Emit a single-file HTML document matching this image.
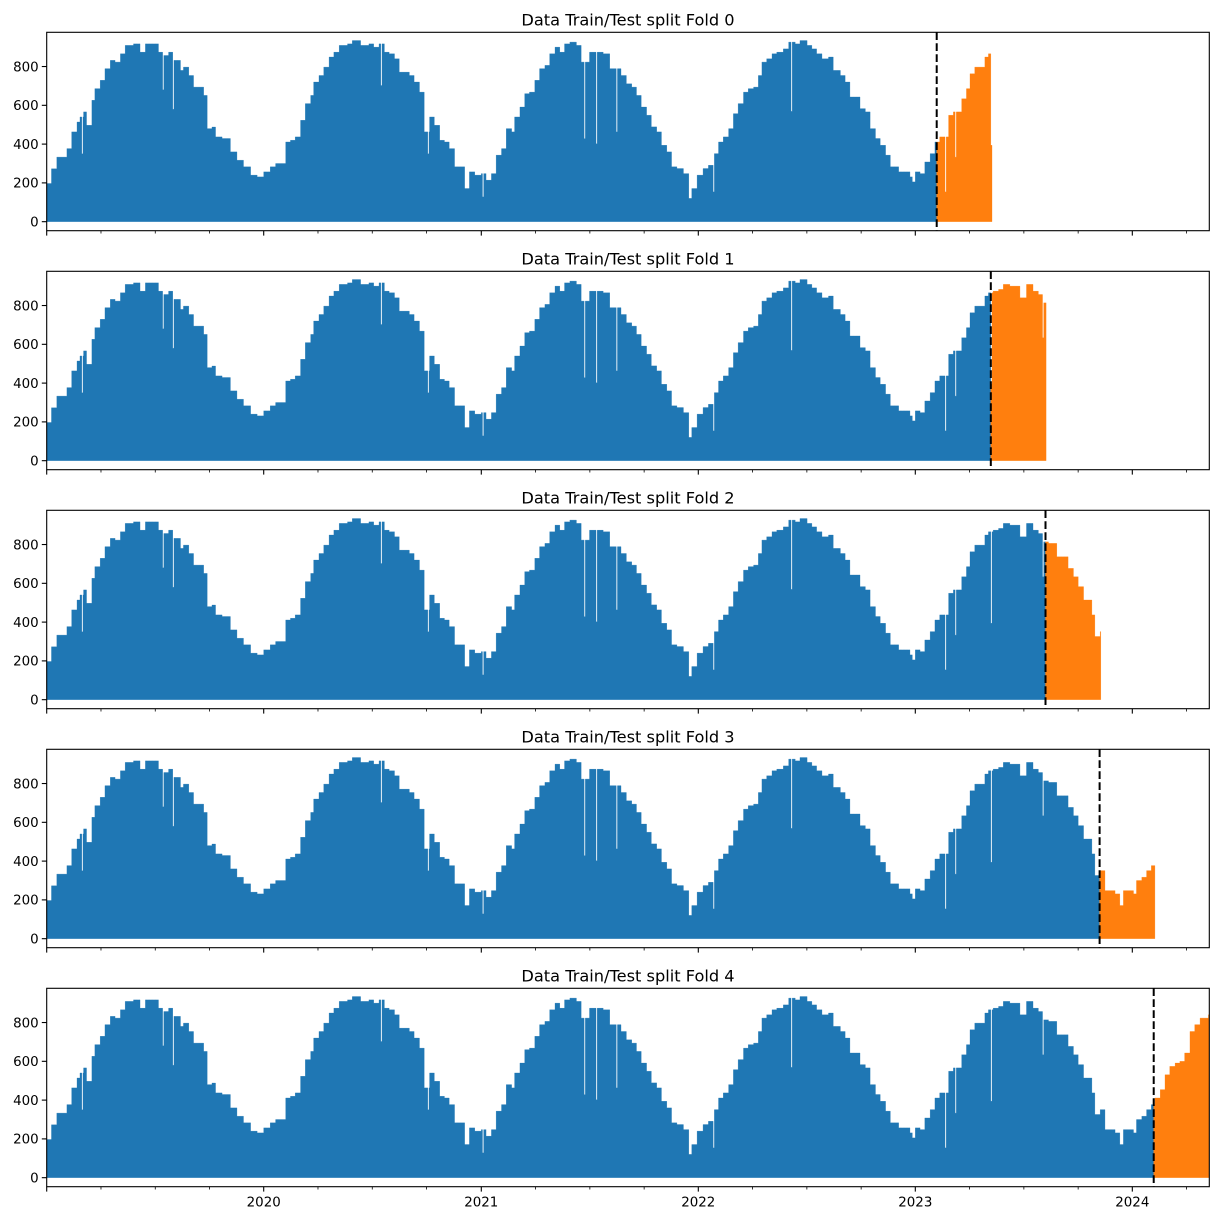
<!DOCTYPE html>
<html><head><meta charset="utf-8"><style>
html,body{margin:0;padding:0;background:#fff;}
svg text{font-family:"DejaVu Sans","Liberation Sans",sans-serif;}
</style></head><body>
<svg id="fig" width="1218" height="1221" viewBox="0 0 1218 1221" xmlns="http://www.w3.org/2000/svg"></svg>
<script>
// ---- data (day index from 2019-01-01) ----
const sampleDays = [0,8,17,28,34,42,51,56,62,67,76,81,90,98,107,115,124,132,146,157,166,180,188,197,205,213,225,230,239,247,255,264,270,278,284,295,309,320,331,343,354,365,
376,385,393,402,410,418,427,435,444,449,458,466,475,483,492,506,514,528,542,550,559,568,576,585,593,601,610,618,627,635,644,652,661,669,677,686,694,703,711,720,731,
739,748,756,765,773,782,787,796,804,812,821,829,838,846,855,863,871,880,891,899,913,925,936,947,955,966,975,984,992,1000,1009,1017,1026,1034,1043,1051,1060,1071,1080,1085,1094,
1104,1113,1121,1130,1138,1147,1155,1163,1172,1180,1189,1197,1203,1211,1220,1228,1239,1248,1259,1267,1279,1287,1295,1304,1315,1323,1335,1343,1351,1360,1368,1377,1385,1394,1402,1411,1419,1424,1433,1441,1452,1456,
1461,1469,1477,1486,1494,1502,1517,1525,1533,1539,1547,1553,1561,1570,1578,1584,1592,1601,1609,1620,1629,1637,1648,1659,1668,1676,1685,1693,1699,1710,1718,1727,1735,1744,1752,1758,1763,1772,1780,1788,1797,1805,1811,1819,1828,1833,1842,1850,1858,1864,1873,1881,1889,1898,1906,1914,1923,1931,1940,1948,1954];
const samplePeaks = [197,273,333,333,377,463,514,540,566,497,626,686,729,789,832,823,866,909,917,874,917,917,874,857,874,832,780,797,754,694,694,651,480,488,437,429,360,317,283,240,231,257,
283,300,300,411,420,437,523,609,651,720,754,797,849,874,909,917,934,909,917,900,917,874,866,840,771,771,754,720,668,463,540,497,420,411,377,283,283,171,257,240,248,
214,248,343,377,480,463,540,591,660,668,729,789,806,866,900,874,917,926,909,823,874,874,866,789,789,754,711,694,651,591,549,489,463,394,360,283,274,248,120,171,240,
274,291,351,411,437,480,557,609,668,686,694,754,823,840,866,874,891,926,917,934,909,891,866,840,849,780,754,720,643,643,583,566,480,429,394,343,283,283,257,257,231,205,
257,248,308,351,411,437,549,566,566,634,686,763,797,797,849,866,874,883,909,900,900,840,909,874,857,814,806,806,737,737,677,634,583,514,514,437,326,351,248,248,231,171,248,248,231,300,317,351,377,411,454,531,574,591,600,643,754,789,823,823,840];
const dipDays = [59,195,212,562,641,733,904,924,958,1121,1252,1511,1528,1588,1675];
const dipValues = [350,680,580,702,350,128,428,402,463,154,569,154,333,394,634];
const foldSplits = [1497,1588,1680,1771,1862];
const testLength = 93;
const yTicks = [0,200,400,600,800];
const yearStartDays = [0,365,731,1096,1461,1826];
const yearLabels = ["","2020","2021","2022","2023","2024"];

// ---- layout ----
const AX_L=46.7, AX_R=1209.3, AX_H=198.4, TOP0=32.3, GAP=239;
const DAY_END=1955.5, YMIN=-46.5, YMAX=976.5;
const NS="http://www.w3.org/2000/svg";
const svg=document.getElementById('fig');
function xS(d){return AX_L+(d-0)*(AX_R-AX_L)/DAY_END;}
function mk(tag,attrs,parent){const e=document.createElementNS(NS,tag);for(const k in attrs)e.setAttribute(k,attrs[k]);(parent||svg).appendChild(e);return e;}

const nDays=1955;
const daily=[];
let si=0;
for(let d=0;d<nDays;d++){
  while(si+1<sampleDays.length && sampleDays[si+1]<=d) si++;
  daily.push(samplePeaks[si]);
}
dipDays.forEach((d,i)=>{if(d<nDays){daily[d]=dipValues[i];if(d+1<nDays)daily[d+1]=dipValues[i];}});

for(let f=0;f<5;f++){
  const top=TOP0+f*GAP, bot=top+AX_H;
  const yS=v=>bot-(v-YMIN)*AX_H/(YMAX-YMIN);
  const g=mk('g',{});
  
  
  const split=foldSplits[f], end=Math.min(split+testLength,nDays);
  function area(d0,d1,color,name){
    let p='M'+xS(d0).toFixed(2)+','+yS(0).toFixed(2);
    for(let d=d0;d<d1;d++){
      p+='L'+xS(d).toFixed(2)+','+yS(daily[d]).toFixed(2)+'L'+xS(d+1).toFixed(2)+','+yS(daily[d]).toFixed(2);
    }
    p+='L'+xS(d1).toFixed(2)+','+yS(0).toFixed(2)+'Z';
    const e=mk('path',{d:p,fill:color,stroke:color,'stroke-width':0.3,'stroke-linejoin':'round'},g);
    
    
  }
  area(0,split,'#1f77b4','train-series');
  area(split,end,'#ff7f0e','test-series');
  const dl=mk('line',{x1:xS(split),x2:xS(split),y1:top,y2:bot,stroke:'#000','stroke-width':2,'stroke-dasharray':'7.7,3.3'},g);
  
  
  const fr=mk('rect',{x:AX_L,y:top,width:AX_R-AX_L,height:AX_H,fill:'none',stroke:'#000','stroke-width':1.1},g);
  
  
  const t=mk('text',{x:(AX_L+AX_R)/2,y:top-7,'text-anchor':'middle','font-size':16.2,fill:'#000'},g);
  t.textContent='Data Train/Test split Fold '+f;
  
  
  yTicks.forEach(v=>{
    const y=yS(v);
    mk('line',{x1:AX_L-4.9,x2:AX_L,y1:y,y2:y,stroke:'#000','stroke-width':1.1},g);
    const tl=mk('text',{x:AX_L-8,y:y+4.8,'text-anchor':'end','font-size':13.4,fill:'#000'},g);
    tl.textContent=v;
    
    
  });
  yearStartDays.forEach((d,i)=>{
    const x=xS(d);
    mk('line',{x1:x,x2:x,y1:bot,y2:bot+4.9,stroke:'#000','stroke-width':1.1},g);
    for(let q=1;q<4;q++){
      const qd=d+q*91.3;
      if(qd<DAY_END){const xq=xS(qd);mk('line',{x1:xq,x2:xq,y1:bot,y2:bot+2.8,stroke:'#000','stroke-width':0.8},g);}
    }
    if(f===4 && yearLabels[i]){
      const xl=mk('text',{x:x,y:bot+20,'text-anchor':'middle','font-size':13.4,fill:'#000'},g);
      xl.textContent=yearLabels[i];
      
      
    }
  });
}
</script>
</body></html>
